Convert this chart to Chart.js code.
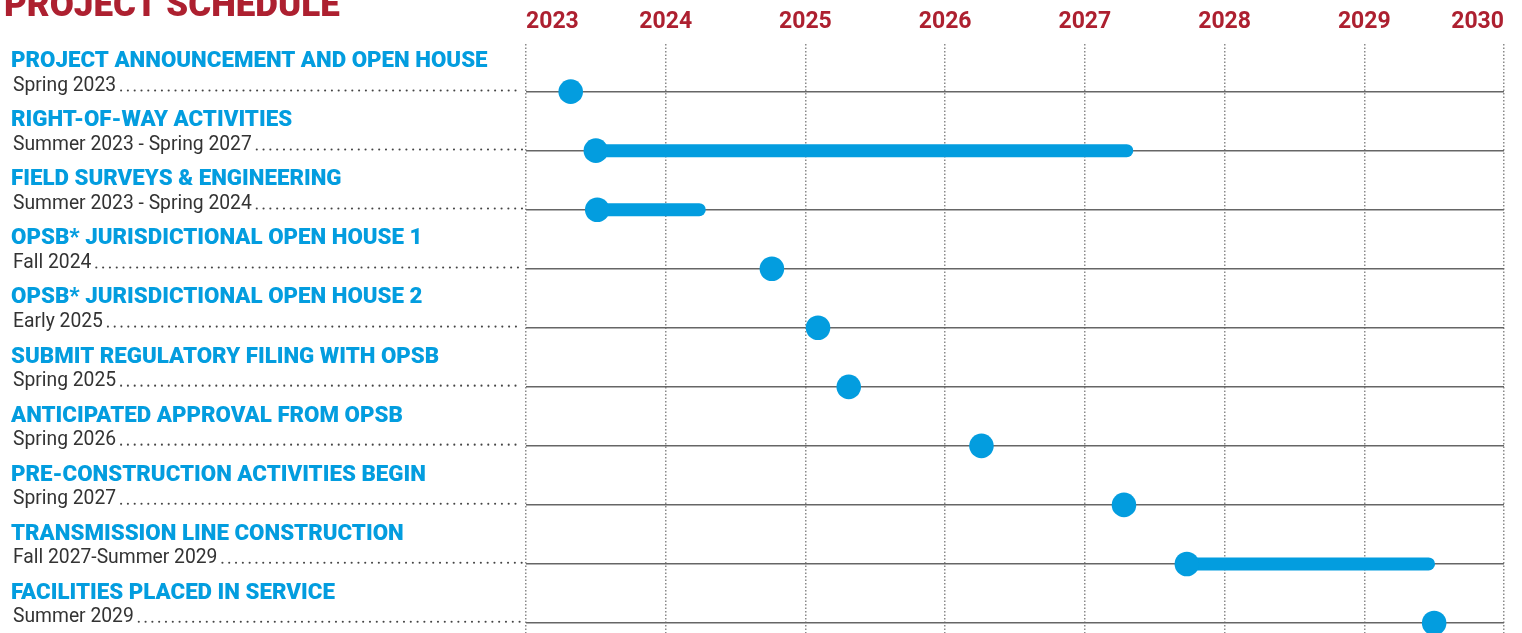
<!DOCTYPE html>
<html>
<head>
<meta charset="utf-8">
<script src="https://cdn.jsdelivr.net/npm/chart.js@4/dist/chart.umd.min.js"></script>
<style>
  html, body { margin: 0; padding: 0; background: #ffffff; }
  #wrap { position: relative; width: 1522px; height: 633px; overflow: hidden; }
  canvas { display: block; }
</style>
</head>
<body>
<div id="wrap"><canvas id="c" width="1522" height="633"></canvas></div>
<script>
// ---- data ----
const chartTitle = "PROJECT SCHEDULE";
const years = [2023, 2024, 2025, 2026, 2027, 2028, 2029, 2030];
const activities = [
  "PROJECT ANNOUNCEMENT AND OPEN HOUSE",
  "RIGHT-OF-WAY ACTIVITIES",
  "FIELD SURVEYS & ENGINEERING",
  "OPSB* JURISDICTIONAL OPEN HOUSE 1",
  "OPSB* JURISDICTIONAL OPEN HOUSE 2",
  "SUBMIT REGULATORY FILING WITH OPSB",
  "ANTICIPATED APPROVAL FROM OPSB",
  "PRE-CONSTRUCTION ACTIVITIES BEGIN",
  "TRANSMISSION LINE CONSTRUCTION",
  "FACILITIES PLACED IN SERVICE"
];
const periods = [
  "Spring 2023",
  "Summer 2023 - Spring 2027",
  "Summer 2023 - Spring 2024",
  "Fall 2024",
  "Early 2025",
  "Spring 2025",
  "Spring 2026",
  "Spring 2027",
  "Fall 2027-Summer 2029",
  "Summer 2029"
];
const startDates = [2023.32, 2023.5, 2023.51, 2024.76, 2025.09, 2025.31, 2026.26, 2027.28, 2027.73, 2029.5];
const endDates   = [null, 2027.3, 2024.24, null, null, null, null, null, 2029.46, null];

// ---- styles ----
const BLUE = "#039ddf";
const RED = "#ad2030";
const ROWLINE = "#666666";
const GRID = "#8a8a8a";
const SUBTEXT = "#333333";

const datasets = [];
activities.forEach((a, i) => {
  if (endDates[i] !== null) {
    datasets.push({
      label: a + " span",
      data: [{x: startDates[i], y: i}, {x: endDates[i], y: i}],
      showLine: true,
      borderColor: BLUE,
      backgroundColor: BLUE,
      borderWidth: 13,
      borderCapStyle: "round",
      pointRadius: 0,
      pointHoverRadius: 0,
      clip: false,
      order: 2
    });
  }
});
datasets.push({
  label: "milestones",
  data: startDates.map((s, i) => ({x: s, y: i})),
  showLine: false,
  pointRadius: 12.3,
  pointHoverRadius: 12.3,
  pointBackgroundColor: BLUE,
  pointBorderWidth: 0,
  borderWidth: 0,
  clip: false,
  order: 1
});

const labelPlugin = {
  id: "leftLabels",
  afterDraw(chart) {
    const ctx = chart.ctx;
    const ys = chart.scales.y;
    const leftEdge = chart.chartArea.left;
    ctx.save();
    // main title
    ctx.fillStyle = RED;
    ctx.font = "900 35px Roboto";
    ctx.textBaseline = "alphabetic";
    ctx.textAlign = "left";
    ctx.fillText(chartTitle, 4, 16);
    activities.forEach((a, i) => {
      const y = ys.getPixelForValue(i);
      ctx.fillStyle = BLUE;
      ctx.font = "900 22.3px Roboto";
      ctx.fillText(a, 11, y - 24.3);
      ctx.fillStyle = SUBTEXT;
      ctx.font = "19.3px Roboto";
      ctx.fillText(periods[i], 13, y - 1);
      const w = ctx.measureText(periods[i]).width;
      // dotted leader
      ctx.fillStyle = "#444444";
      let x = 13 + w + 5;
      while (x <= leftEdge - 4) {
        ctx.beginPath();
        ctx.arc(x, y - 1.2, 1.05, 0, Math.PI * 2);
        ctx.fill();
        x += 6.8;
      }
    });
    ctx.restore();
  }
};

new Chart(document.getElementById("c"), {
  type: "scatter",
  data: { datasets },
  options: {
    responsive: false,
    animation: false,
    devicePixelRatio: 1,
    layout: { autoPadding: false, padding: { left: 526, right: 18, top: 0, bottom: 0 } },
    plugins: { legend: { display: false }, tooltip: { enabled: false } },
    events: [],
    scales: {
      x: {
        type: "linear",
        position: "top",
        min: years[0],
        max: years[years.length - 1],
        afterBuildTicks: (s) => { s.ticks = years.map(v => ({ value: v })); },
        ticks: {
          color: RED,
          font: { family: "Roboto", weight: "bold", size: 23 },
          padding: 8,
          align: "inner",
          maxRotation: 0,
          autoSkip: false,
          callback: (v) => String(v)
        },
        grid: { color: GRID, lineWidth: 1.5, drawTicks: false },
        border: { display: false, dash: [1.5, 2] }
      },
      y: {
        type: "linear",
        reverse: true,
        min: -0.8136,
        max: 9.1695,
        afterBuildTicks: (s) => { s.ticks = activities.map((_, i) => ({ value: i })); },
        ticks: { display: false },
        grid: { color: ROWLINE, lineWidth: 1.5, drawTicks: false },
        border: { display: false }
      }
    }
  },
  plugins: [labelPlugin]
});
</script>
</body>
</html>
